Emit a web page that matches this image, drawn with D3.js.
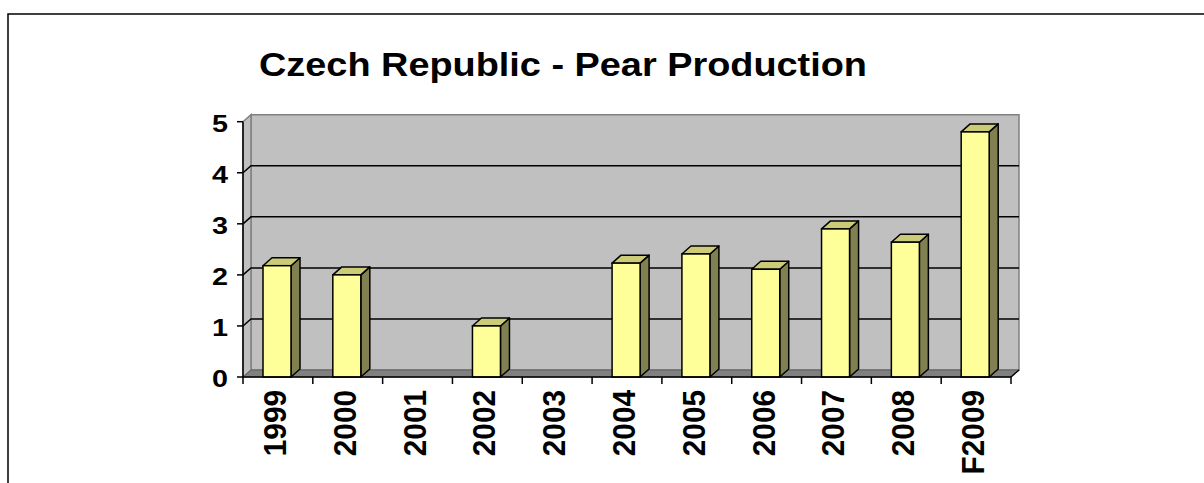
<!DOCTYPE html>
<html>
<head>
<meta charset="utf-8">
<script src="https://cdn.jsdelivr.net/npm/d3@7"></script>
<style>
  html, body { margin: 0; padding: 0; background: #fff; }
  svg { display: block; }
</style>
</head>
<body>
<div id="chart"></div>
<script>
// --- data ---
const chartTitle = "Czech Republic - Pear Production";
const years = ["1999", "2000", "2001", "2002", "2003", "2004", "2005", "2006", "2007", "2008", "F2009"];
const production = [2.18, 2.0, null, 1.0, null, 2.23, 2.41, 2.11, 2.9, 2.64, 4.8];
const yTicks = [0, 1, 2, 3, 4, 5];

const W = 1204, H = 483;
const font = "'Liberation Sans', Arial, Helvetica, sans-serif";

const svg = d3.select("#chart").append("svg")
  .attr("width", W)
  .attr("height", H);

svg.append("rect").attr("width", W).attr("height", H).attr("fill", "#fff");

// outer frame (only top + left edges show in the picture)
svg.append("path")
  .attr("d", `M8,${H + 2} L8,14 L${W + 2},14`)
  .attr("fill", "none")
  .attr("stroke", "#000")
  .attr("stroke-width", 1.5);

// scales
const x = d3.scaleBand().domain(years).range([243, 1011]);
const y = d3.scaleLinear().domain([0, 5]).range([377, 121.7]);

const x0 = x.range()[0], x1 = x.range()[1];
const wallDx = 8, wallDy = -7;   // depth of walls / floor
const barDx = 9, barDy = -8;     // depth of each column
const barOff = 20, barW = 28;

const g = svg.append("g");

// back wall
g.append("polygon")
  .attr("points", [
    [x0 + wallDx, y(5) + wallDy], [x1 + wallDx, y(5) + wallDy],
    [x1 + wallDx, y(0) + wallDy], [x0 + wallDx, y(0) + wallDy]
  ].join(" "))
  .attr("fill", "#c0c0c0")
  .attr("stroke", "#808080")
  .attr("stroke-width", 1.5);

// side wall
g.append("polygon")
  .attr("points", [
    [x0, y(5)], [x0 + wallDx, y(5) + wallDy],
    [x0 + wallDx, y(0) + wallDy], [x0, y(0)]
  ].join(" "))
  .attr("fill", "#c0c0c0")
  .attr("stroke", "#808080")
  .attr("stroke-width", 1.5);

// floor
g.append("polygon")
  .attr("points", [
    [x0, y(0)], [x0 + wallDx, y(0) + wallDy],
    [x1 + wallDx, y(0) + wallDy], [x1, y(0)]
  ].join(" "))
  .attr("fill", "#808080")
  .attr("stroke", "#606060")
  .attr("stroke-width", 1);

// right edge of the floor
g.append("line")
  .attr("x1", x1).attr("y1", y(0))
  .attr("x2", x1 + wallDx).attr("y2", y(0) + wallDy)
  .attr("stroke", "#000").attr("stroke-width", 1.5);

// gridlines (back wall + diagonal across the side wall)
const grid = yTicks.filter(t => t > 0 && t < 5);
g.selectAll(".grid")
  .data(grid)
  .join("path")
    .attr("class", "grid")
    .attr("d", t => `M${x0},${y(t)} L${x0 + wallDx},${y(t) + wallDy} L${x1 + wallDx},${y(t) + wallDy}`)
    .attr("fill", "none")
    .attr("stroke", "#000")
    .attr("stroke-width", 1.5);

// columns
const bars = years.map((yr, i) => ({ yr, v: production[i] })).filter(d => d.v != null);

const col = g.selectAll(".col")
  .data(bars)
  .join("g")
    .attr("class", "col");

col.append("polygon")   // side face
  .attr("points", d => {
    const bx = x(d.yr) + barOff + barW;
    return [[bx, y(d.v)], [bx + barDx, y(d.v) + barDy], [bx + barDx, y(0) + barDy], [bx, y(0)]].join(" ");
  })
  .attr("fill", "#808050")
  .attr("stroke", "#000")
  .attr("stroke-width", 1.5)
  .attr("stroke-linejoin", "round");

col.append("polygon")   // top face
  .attr("points", d => {
    const bx = x(d.yr) + barOff;
    return [[bx, y(d.v)], [bx + barDx, y(d.v) + barDy], [bx + barW + barDx, y(d.v) + barDy], [bx + barW, y(d.v)]].join(" ");
  })
  .attr("fill", "#cccc78")
  .attr("stroke", "#000")
  .attr("stroke-width", 1.5)
  .attr("stroke-linejoin", "round");

col.append("rect")      // front face
  .attr("x", d => x(d.yr) + barOff)
  .attr("y", d => y(d.v))
  .attr("width", barW)
  .attr("height", d => y(0) - y(d.v))
  .attr("fill", "#ffff99")
  .attr("stroke", "#000")
  .attr("stroke-width", 1.5);

// y axis
g.append("line")
  .attr("x1", x0).attr("x2", x0)
  .attr("y1", y(5)).attr("y2", y(0))
  .attr("stroke", "#000").attr("stroke-width", 1.5);

g.selectAll(".ytick")
  .data(yTicks)
  .join("line")
    .attr("class", "ytick")
    .attr("x1", x0 - 6).attr("x2", x0)
    .attr("y1", d => y(d)).attr("y2", d => y(d))
    .attr("stroke", "#000").attr("stroke-width", 1.5);

g.selectAll(".ylab")
  .data(yTicks)
  .join("text")
    .attr("class", "ylab")
    .attr("x", 228)
    .attr("y", d => y(d) + 10)
    .attr("text-anchor", "end")
    .attr("font-family", font)
    .attr("font-weight", "bold")
    .attr("font-size", 24)
    .attr("textLength", 16)
    .attr("lengthAdjust", "spacingAndGlyphs")
    .text(d => d);

// x axis
g.append("line")
  .attr("x1", x0).attr("x2", x1)
  .attr("y1", y(0)).attr("y2", y(0))
  .attr("stroke", "#000").attr("stroke-width", 1.5);

const bounds = years.map(yr => x(yr)).concat([x1]);
g.selectAll(".xtick")
  .data(bounds)
  .join("line")
    .attr("class", "xtick")
    .attr("x1", d => d).attr("x2", d => d)
    .attr("y1", y(0)).attr("y2", y(0) + 7)
    .attr("stroke", "#000").attr("stroke-width", 1.5);

g.selectAll(".xlab")
  .data(years)
  .join("text")
    .attr("class", "xlab")
    .attr("transform", d => `translate(${x(d) + x.bandwidth() / 2 + 8},390) rotate(-90)`)
    .attr("text-anchor", "end")
    .attr("font-family", font)
    .attr("font-weight", "bold")
    .attr("font-size", 32)
    .text(d => d)
    .each(function() {
      const len = this.getComputedTextLength();
      d3.select(this)
        .attr("textLength", len * 0.93)
        .attr("lengthAdjust", "spacingAndGlyphs");
    });

// title
svg.append("text")
  .attr("x", 259)
  .attr("y", 76)
  .attr("font-family", font)
  .attr("font-weight", "bold")
  .attr("font-size", 33)
  .attr("textLength", 608)
  .attr("lengthAdjust", "spacingAndGlyphs")
  .text(chartTitle);
</script>
</body>
</html>
